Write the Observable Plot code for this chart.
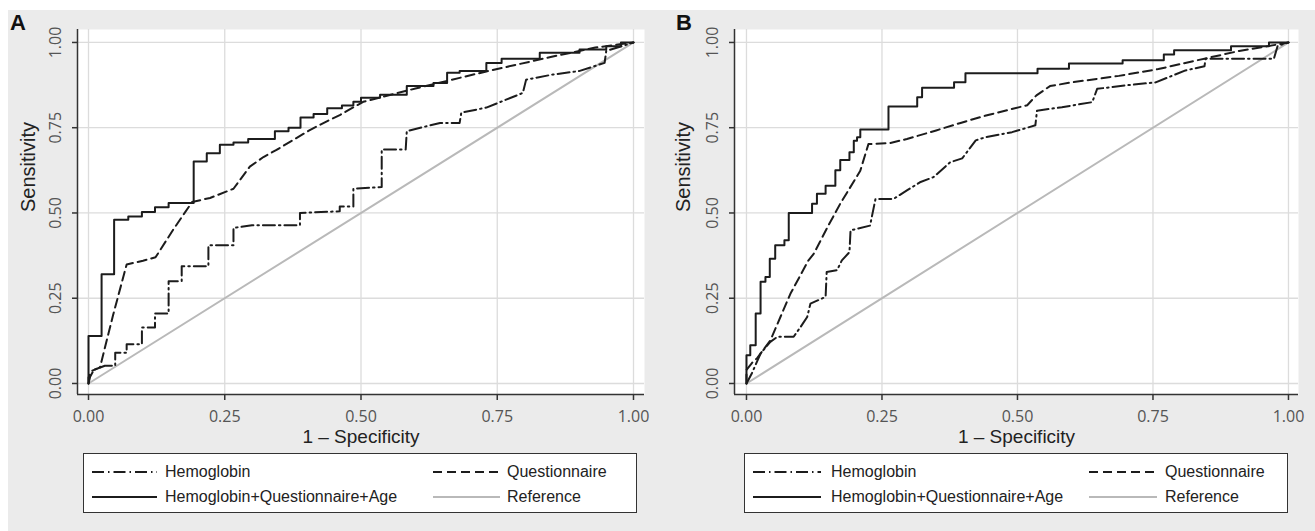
<!DOCTYPE html>
<html><head><meta charset="utf-8">
<script src="https://cdn.jsdelivr.net/npm/d3@7"></script>
<script src="https://cdn.jsdelivr.net/npm/@observablehq/plot@0.6"></script>
<style>
body{margin:0;background:#fff;width:1315px;height:531px;overflow:hidden;position:relative;font-family:"Liberation Sans",Arial,sans-serif;}
#bg{position:absolute;left:8px;top:10px;width:1307px;height:521px;background:#ebebeb;}
.panel{position:absolute;top:0;}
.letter{position:absolute;top:12px;font:bold 22px/1 "Liberation Sans",Arial,sans-serif;color:#111;}
.legend{position:absolute;top:453px;height:60px;background:#fff;border:1.5px solid #333;box-sizing:border-box;}
.item{position:absolute;display:flex;align-items:center;font-size:16px;color:#222;height:20px;white-space:nowrap;}
.item svg{display:block;}
</style></head><body>
<div id="bg"></div>
<div class="panel" id="pA" style="left:0px"></div>
<div class="panel" id="pB" style="left:655px"></div>
<div class="letter" style="left:10px">A</div>
<div class="letter" style="left:676px">B</div>
<div class="legend" id="legA" style="left:83px;width:554px"></div>
<div class="legend" id="legB" style="left:744px;width:544px"></div>
<script>
// ---- data ----
const ticks = [0, 0.25, 0.5, 0.75, 1];
const tickLabels = ["0.00", "0.25", "0.50", "0.75", "1.00"];
const seriesNames = ["Hemoglobin", "Questionnaire", "Hemoglobin+Questionnaire+Age", "Reference"];
const xTitle = "1 \u2013 Specificity";
const yTitle = "Sensitivity";
const reference = [[0, 0], [1, 1]];

// Panel A
const hemoglobinA = [[0,0],[0.003,0.02],[0.01,0.04],[0.03,0.052],[0.049,0.052],[0.049,0.09],[0.07,0.09],[0.07,0.115],[0.098,0.115],[0.098,0.164],[0.122,0.164],[0.122,0.205],[0.147,0.205],[0.147,0.3],[0.171,0.3],[0.171,0.344],[0.22,0.344],[0.22,0.405],[0.266,0.405],[0.266,0.456],[0.3,0.464],[0.388,0.464],[0.388,0.5],[0.461,0.505],[0.461,0.519],[0.486,0.519],[0.486,0.571],[0.538,0.576],[0.538,0.686],[0.582,0.686],[0.584,0.74],[0.645,0.764],[0.681,0.764],[0.684,0.794],[0.73,0.809],[0.797,0.852],[0.803,0.891],[0.852,0.906],[0.9,0.916],[0.947,0.94],[0.95,0.975],[1,1]];
const questionnaireA = [[0,0],[0,0.018],[0.006,0.037],[0.021,0.047],[0.045,0.2],[0.07,0.349],[0.1,0.36],[0.123,0.37],[0.155,0.45],[0.19,0.532],[0.223,0.544],[0.266,0.571],[0.296,0.636],[0.321,0.664],[0.345,0.685],[0.406,0.743],[0.44,0.771],[0.461,0.787],[0.504,0.826],[0.6,0.865],[0.73,0.915],[0.85,0.958],[0.93,0.985],[1,1]];
const combinedA = [[0,0],[0,0.139],[0.024,0.139],[0.024,0.32],[0.047,0.32],[0.047,0.48],[0.073,0.48],[0.073,0.49],[0.098,0.49],[0.098,0.503],[0.122,0.503],[0.122,0.517],[0.147,0.517],[0.147,0.529],[0.193,0.529],[0.193,0.651],[0.217,0.651],[0.217,0.675],[0.241,0.675],[0.241,0.7],[0.266,0.7],[0.266,0.707],[0.293,0.707],[0.293,0.717],[0.342,0.717],[0.342,0.74],[0.367,0.74],[0.367,0.75],[0.389,0.75],[0.389,0.78],[0.413,0.78],[0.413,0.79],[0.438,0.79],[0.438,0.807],[0.465,0.807],[0.465,0.815],[0.486,0.815],[0.486,0.826],[0.5,0.826],[0.5,0.838],[0.535,0.838],[0.535,0.847],[0.584,0.847],[0.584,0.872],[0.633,0.872],[0.633,0.881],[0.658,0.881],[0.658,0.911],[0.681,0.911],[0.681,0.916],[0.73,0.916],[0.73,0.94],[0.758,0.94],[0.758,0.952],[0.828,0.952],[0.828,0.97],[0.901,0.97],[0.901,0.979],[0.95,0.979],[0.95,0.989],[0.977,0.989],[0.977,1],[1,1]];

// Panel B
const hemoglobinB = [[0,0],[0.01,0.03],[0.026,0.088],[0.044,0.122],[0.057,0.137],[0.087,0.137],[0.1,0.166],[0.112,0.195],[0.118,0.234],[0.146,0.254],[0.148,0.327],[0.167,0.332],[0.176,0.361],[0.19,0.385],[0.192,0.449],[0.228,0.463],[0.238,0.541],[0.271,0.541],[0.296,0.566],[0.32,0.59],[0.345,0.605],[0.376,0.649],[0.398,0.66],[0.423,0.713],[0.441,0.722],[0.49,0.737],[0.533,0.757],[0.536,0.8],[0.582,0.81],[0.638,0.825],[0.647,0.864],[0.699,0.874],[0.755,0.883],[0.81,0.918],[0.845,0.93],[0.847,0.952],[0.973,0.952],[0.98,0.99],[1,1]];
const questionnaireB = [[0,0],[0,0.04],[0.01,0.06],[0.02,0.075],[0.044,0.126],[0.081,0.263],[0.114,0.36],[0.124,0.38],[0.15,0.46],[0.173,0.527],[0.21,0.624],[0.225,0.702],[0.265,0.705],[0.296,0.717],[0.35,0.742],[0.395,0.764],[0.44,0.785],[0.518,0.816],[0.535,0.845],[0.56,0.872],[0.6,0.883],[0.687,0.902],[0.76,0.922],[0.835,0.949],[0.909,0.975],[0.976,0.993],[1,1]];
const combinedB = [[0,0],[0,0.083],[0.007,0.083],[0.007,0.112],[0.017,0.112],[0.017,0.205],[0.026,0.205],[0.026,0.298],[0.035,0.298],[0.035,0.312],[0.043,0.312],[0.043,0.366],[0.053,0.366],[0.053,0.405],[0.07,0.405],[0.07,0.42],[0.078,0.42],[0.078,0.5],[0.121,0.5],[0.121,0.527],[0.13,0.527],[0.13,0.556],[0.146,0.556],[0.146,0.58],[0.164,0.58],[0.164,0.625],[0.173,0.625],[0.173,0.655],[0.19,0.655],[0.19,0.678],[0.198,0.678],[0.198,0.712],[0.204,0.712],[0.204,0.722],[0.21,0.722],[0.21,0.745],[0.262,0.745],[0.262,0.812],[0.315,0.812],[0.315,0.839],[0.324,0.839],[0.324,0.867],[0.383,0.867],[0.383,0.883],[0.404,0.883],[0.404,0.91],[0.537,0.91],[0.537,0.923],[0.595,0.923],[0.595,0.938],[0.694,0.938],[0.694,0.948],[0.77,0.948],[0.77,0.965],[0.789,0.965],[0.789,0.977],[0.894,0.977],[0.894,0.989],[0.964,0.989],[0.964,1],[1,1]];

// ---- styles ----
const lineStyles = {
  "Hemoglobin": {stroke: "#1c1c1c", strokeWidth: 2, strokeDasharray: "12,4,1.5,4"},
  "Questionnaire": {stroke: "#1c1c1c", strokeWidth: 2, strokeDasharray: "9,5"},
  "Hemoglobin+Questionnaire+Age": {stroke: "#1c1c1c", strokeWidth: 2},
  "Reference": {stroke: "#b9b9b9", strokeWidth: 2}
};
const yDomain = [-0.0323, 1.038];

function panel(series, o) {
  const xy = {x: d => d[0], y: d => d[1]};
  return Plot.plot({
    width: o.width, height: 450,
    marginLeft: o.marginLeft, marginRight: o.marginRight, marginTop: 29, marginBottom: 56,
    style: {background: "transparent", overflow: "visible", fontFamily: "'Liberation Sans', Arial, sans-serif"},
    x: {domain: o.xDomain},
    y: {domain: yDomain},
    marks: [
      Plot.frame({fill: "white", stroke: null}),
      Plot.gridX(ticks, {stroke: "#dcdcdc", strokeOpacity: 1, strokeWidth: 1.3}),
      Plot.gridY(ticks, {stroke: "#dcdcdc", strokeOpacity: 1, strokeWidth: 1.3}),
      Plot.line(reference, {...xy, ...lineStyles["Reference"]}),
      Plot.line(series.hemoglobin, {...xy, ...lineStyles["Hemoglobin"]}),
      Plot.line(series.questionnaire, {...xy, ...lineStyles["Questionnaire"]}),
      Plot.line(series.combined, {...xy, ...lineStyles["Hemoglobin+Questionnaire+Age"]}),
      Plot.ruleX([o.xDomain[0]], {stroke: "#333", strokeWidth: 1.5}),
      Plot.ruleY([yDomain[0]], {stroke: "#333", strokeWidth: 1.5}),
      Plot.axisX(ticks, {tickSize: 6, tickPadding: 10, tickFormat: d => tickLabels[ticks.indexOf(d)], label: null,
        fontSize: 16, fontFamily: "'Open Sans', sans-serif", fill: "#555", stroke: "#333", strokeWidth: 1.5}),
      Plot.axisY(ticks, {tickSize: 5, tickRotate: -90, tickPadding: 12, tickFormat: d => tickLabels[ticks.indexOf(d)], label: null,
        fontSize: 16, fontFamily: "'Open Sans', sans-serif", fill: "#555", stroke: "#333", strokeWidth: 1.5}),
      Plot.text([yTitle], {text: d => d, frameAnchor: "left", dx: o.yTitleDx, rotate: -90, fontSize: 20, fill: "#222"}),
      Plot.text([xTitle], {text: d => d, frameAnchor: "bottom", dy: 48, fontSize: 19, fill: "#222"})
    ]
  });
}

document.getElementById("pA").appendChild(panel(
  {hemoglobin: hemoglobinA, questionnaire: questionnaireA, combined: combinedA},
  {width: 650, marginLeft: 77, marginRight: 6, xDomain: [-0.0202, 1.0202], yTitleDx: -49}));
document.getElementById("pB").appendChild(panel(
  {hemoglobin: hemoglobinB, questionnaire: questionnaireB, combined: combinedB},
  {width: 660, marginLeft: 79, marginRight: 17, xDomain: [-0.0221, 1.0185], yTitleDx: -51}));

// ---- legends (HTML) ----
function sample(name, w) {
  const s = lineStyles[name];
  return `<svg width="${w}" height="6"><line x1="0" y1="3" x2="${w}" y2="3" stroke="${s.stroke}" stroke-width="${s.strokeWidth}" ${s.strokeDasharray ? `stroke-dasharray="${s.strokeDasharray}"` : ""}/></svg>`;
}
function legend(id, cols) {
  const el = document.getElementById(id);
  const order = [[0, 0, 0], [1, 1, 0], [2, 0, 1], [3, 1, 1]];
  const rows = [8, 33];
  for (const [si, ci, ri] of order) {
    const c = cols[ci];
    const d = document.createElement("div");
    d.className = "item";
    d.style.left = c.left + "px";
    d.style.top = rows[ri] + "px";
    d.innerHTML = sample(seriesNames[si], c.w) + `<span style="margin-left:${c.gap}px">${seriesNames[si]}</span>`;
    el.appendChild(d);
  }
}
legend("legA", [{left: 8, w: 65, gap: 8}, {left: 349, w: 67, gap: 7}]);
legend("legB", [{left: 8, w: 68, gap: 10}, {left: 344, w: 68, gap: 8}]);
</script>
</body></html>
